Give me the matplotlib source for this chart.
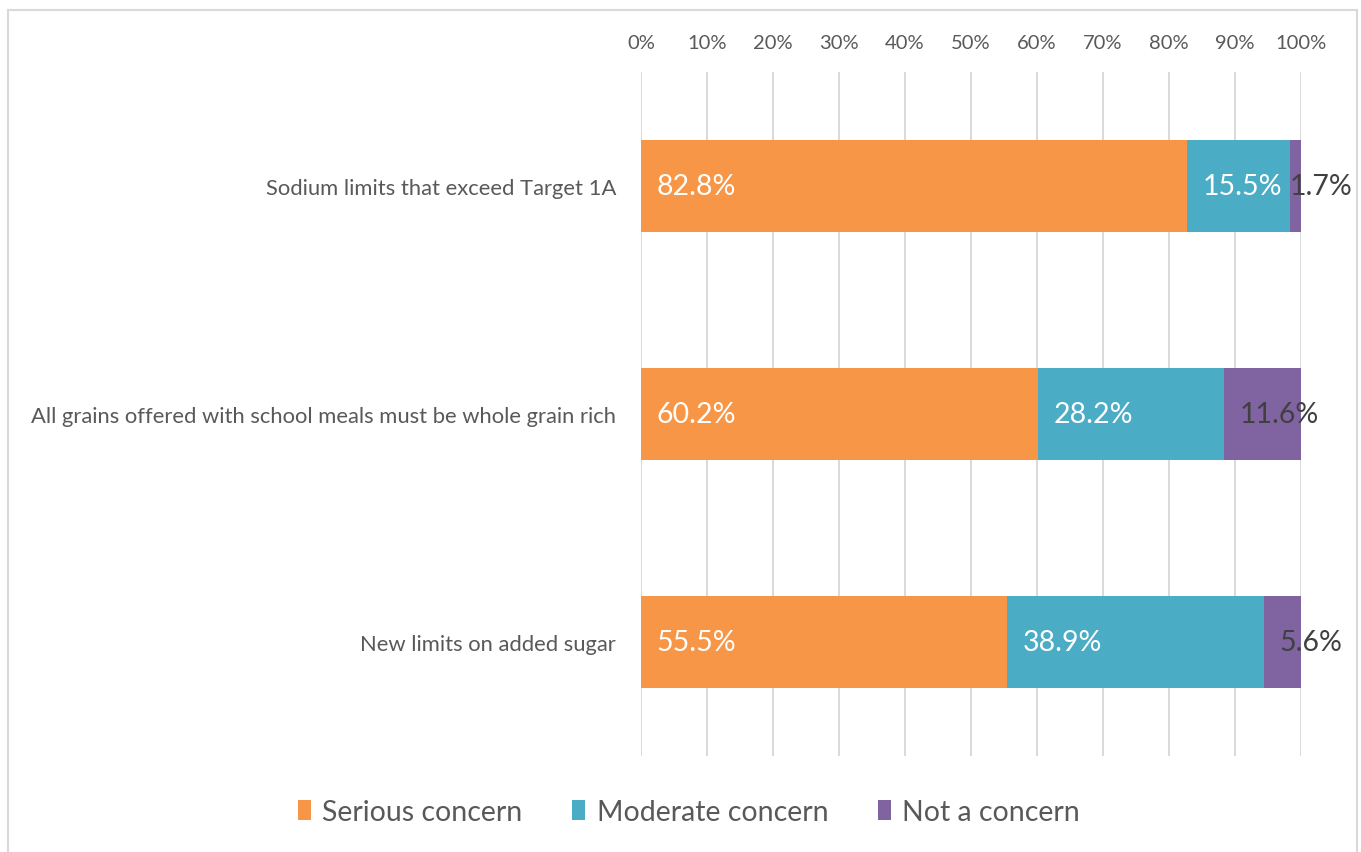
import matplotlib
matplotlib.use("Agg")
import matplotlib.pyplot as plt
from matplotlib.patches import Rectangle, Patch
import numpy as np

plt.rcParams['font.family'] = ['Lato', 'DejaVu Sans']

categories = [
    "Sodium limits that exceed Target 1A",
    "All grains offered with school meals must be whole grain rich",
    "New limits on added sugar",
]
series_names = ["Serious concern", "Moderate concern", "Not a concern"]
serious = [82.8, 60.2, 55.5]
moderate = [15.5, 28.2, 38.9]
not_concern = [1.7, 11.6, 5.6]
tick_values = list(range(0, 101, 10))
tick_labels = [f"{v}%" for v in tick_values]

colors = ["#F79646", "#4BACC6", "#8064A2"]
label_colors = ["white", "white", "#404040"]

W, H = 1361, 853
fig = plt.figure(figsize=(W / 100, H / 100), dpi=100)

# light frame around the chart area
fig.patches.append(Rectangle((8 / W, -0.01), (1357 - 8) / W, 1 - 11 / H + 0.01,
                             transform=fig.transFigure, fill=False,
                             edgecolor="#D9D9D9", linewidth=1.5))

ax_left, ax_right = 641 / W, 1301 / W
ax_top, ax_bottom = 1 - 73 / H, 1 - 757 / H
ax = fig.add_axes([ax_left, ax_bottom, ax_right - ax_left, ax_top - ax_bottom])

y = np.arange(len(categories))
bar_h = 0.404
left = np.zeros(len(categories))
for name, vals, col, lc in zip(series_names, [serious, moderate, not_concern],
                               colors, label_colors):
    vals = np.array(vals)
    ax.barh(y, vals, left=left, height=bar_h, color=col, label=name, zorder=3)
    for yi, l, v in zip(y, left, vals):
        ax.text(l + 2.3 if v > 3 else l, yi, f"{v:.1f}%", ha="left", va="center",
                fontsize=20.5, color=lc, zorder=4)
    left = left + vals

ax.set_xlim(0, 100)
ax.set_ylim(len(categories) - 0.5, -0.5)
ax.set_yticks(y)
ax.set_yticklabels(categories, fontsize=15.8, color="#595959")
ax.set_xticks(tick_values)
ax.set_xticklabels(tick_labels, fontsize=14.5, color="#595959")
ax.xaxis.tick_top()
ax.tick_params(axis="x", length=0, pad=15)
ax.tick_params(axis="y", length=0, pad=18)
ax.grid(axis="x", color="#D9D9D9", linewidth=1.4, zorder=0)
for s in ax.spines.values():
    s.set_visible(False)

handles = [Patch(facecolor=c, edgecolor="none") for c in colors]
fig.legend(handles, series_names, loc="center", bbox_to_anchor=(689 / W, 1 - 813 / H),
           ncol=3, frameon=False, fontsize=20.5, labelcolor="#595959",
           handlelength=0.45, handleheight=0.75, handletextpad=0.4, columnspacing=1.75)

fig.savefig("out.png", dpi=100, facecolor="white")
